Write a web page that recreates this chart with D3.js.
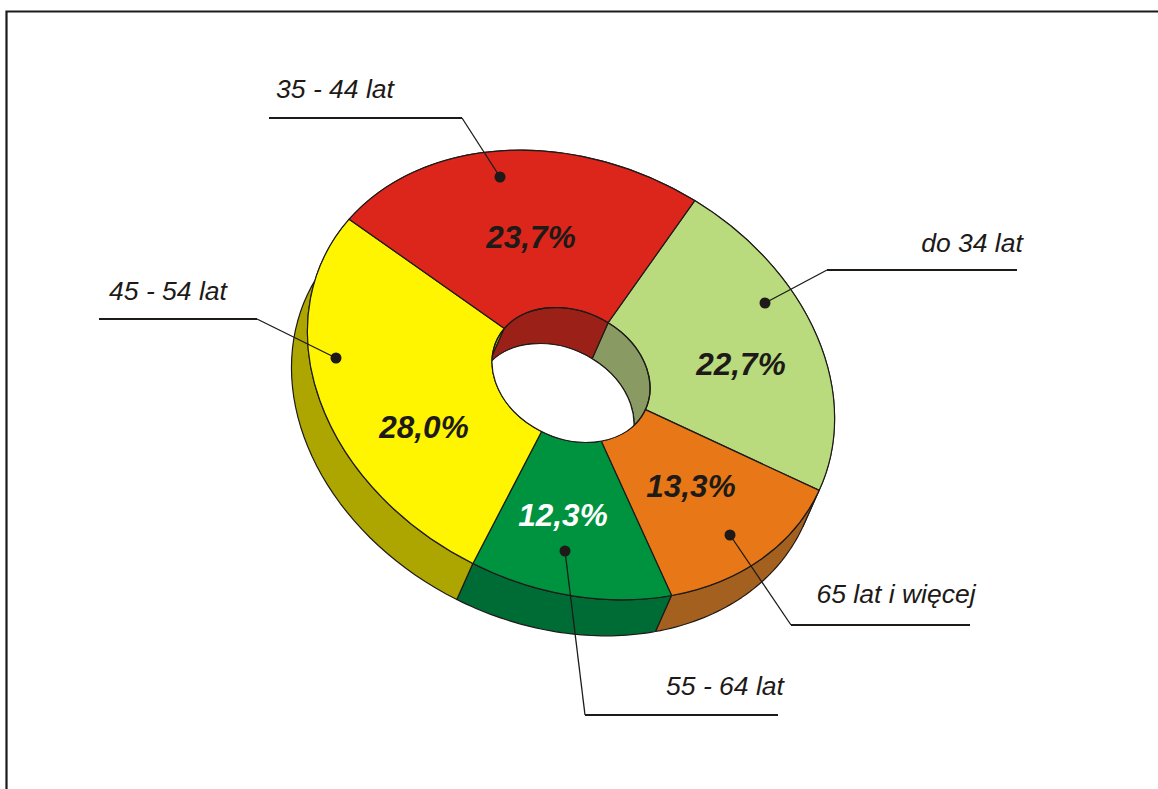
<!DOCTYPE html>
<html>
<head>
<meta charset="utf-8">
<script src="https://cdn.jsdelivr.net/npm/d3@7"></script>
<style>
  html, body { margin: 0; background: #fff; overflow: hidden; }
  text { font-family: "Liberation Sans", Arial, sans-serif; font-style: italic; fill: #1d1a18; }
  .slice-edge { stroke: #1d1a18; stroke-width: 1.2; vector-effect: non-scaling-stroke; stroke-linejoin: round; }
</style>
</head>
<body>
<svg id="chart" width="1158" height="789"></svg>
<script>
const categories = ["do 34 lat", "65 lat i więcej", "55 - 64 lat", "45 - 54 lat", "35 - 44 lat"];
const shares = [22.7, 13.3, 12.3, 28.0, 23.7];
const topColors = ["#b9db7e", "#e87817", "#00933f", "#fff500", "#dc261c"];
const wallColors = ["#8a9a63", "#a4601e", "#006c35", "#aea600", "#9b2118"];
const valueColors = ["#1d1a18", "#1d1a18", "#ffffff", "#1d1a18", "#1d1a18"];

// tilted disc: unit circle mapped to the page by two axis vectors
const CENTER = [571, 375];
const AXIS_A = [123.7, -174.4];
const AXIS_B = [232.7, 141.9];
const DEPTH = [-16, 36];
const HOLE_RADIUS = 0.3;
const STEPS = 40;

// pixel layout of the annotations, same order as categories
const valuePos = [[741, 375], [691, 497], [563, 526], [424, 438], [531, 248]];
const namePos = [[972, 252], [896, 603], [725, 695], [168, 300], [335, 98]];
const leaders = [
  [[1017, 270], [827, 270], [765, 303]],
  [[970, 625], [791, 625], [730, 535]],
  [[778, 715], [585, 715], [565, 551]],
  [[99, 319], [257, 319], [336, 358]],
  [[269, 118], [462, 118], [500, 177]]
];

const svg = d3.select("#chart");

svg.append("path")
  .attr("d", "M6.5,789V11.5H1158")
  .attr("fill", "none")
  .attr("stroke", "#1d1a18")
  .attr("stroke-width", 2.2);

const pie = d3.pie().sort(null).value((d) => d);
const slices = pie(shares);

const discMatrix = (dx, dy) =>
  `matrix(${AXIS_B[0]},${AXIS_B[1]},${-AXIS_A[0]},${-AXIS_A[1]},${CENTER[0] + dx},${CENTER[1] + dy})`;

const project = (r, angle) => [
  CENTER[0] + r * (AXIS_A[0] * Math.cos(angle) + AXIS_B[0] * Math.sin(angle)),
  CENTER[1] + r * (AXIS_A[1] * Math.cos(angle) + AXIS_B[1] * Math.sin(angle))
];

const wallPath = (slice, r) => {
  const angles = d3.range(STEPS + 1).map((i) =>
    slice.startAngle + (slice.endAngle - slice.startAngle) * i / STEPS);
  const edge = angles.map((a) => project(r, a));
  const lower = edge.map((p) => [p[0] + DEPTH[0], p[1] + DEPTH[1]]).reverse();
  return d3.line()(edge.concat(lower)) + "Z";
};

svg.append("defs").append("clipPath")
  .attr("id", "hole-clip")
  .append("circle")
  .attr("r", HOLE_RADIUS)
  .attr("transform", discMatrix(0, 0));

// outer wall
svg.append("g").selectAll("path")
  .data(slices)
  .join("path")
  .attr("class", "slice-edge")
  .attr("d", (d) => wallPath(d, 1))
  .attr("fill", (d, i) => wallColors[i]);

// top face
const arc = d3.arc().innerRadius(HOLE_RADIUS).outerRadius(1);
svg.append("g").selectAll("path")
  .data(slices)
  .join("path")
  .attr("class", "slice-edge")
  .attr("d", arc)
  .attr("transform", discMatrix(0, 0))
  .attr("fill", (d, i) => topColors[i]);

// inside of the hole
const hole = svg.append("g").attr("clip-path", "url(#hole-clip)");
hole.selectAll("path")
  .data(slices)
  .join("path")
  .attr("class", "slice-edge")
  .attr("d", (d) => wallPath(d, HOLE_RADIUS))
  .attr("fill", (d, i) => wallColors[i]);
hole.append("circle")
  .attr("class", "slice-edge")
  .attr("r", HOLE_RADIUS)
  .attr("transform", discMatrix(DEPTH[0], DEPTH[1]))
  .attr("fill", "#fff");
svg.append("circle")
  .attr("class", "slice-edge")
  .attr("r", HOLE_RADIUS)
  .attr("transform", discMatrix(0, 0))
  .attr("fill", "none");

// leaders
leaders.forEach((pts) => {
  svg.append("path")
    .attr("d", d3.line()(pts.slice(0, 2)))
    .attr("fill", "none")
    .attr("stroke", "#1d1a18")
    .attr("stroke-width", 2);
  svg.append("path")
    .attr("d", d3.line()(pts.slice(1)))
    .attr("fill", "none")
    .attr("stroke", "#1d1a18")
    .attr("stroke-width", 1.3);
  svg.append("circle")
    .attr("cx", pts[2][0])
    .attr("cy", pts[2][1])
    .attr("r", 5.5)
    .attr("fill", "#1d1a18");
});

svg.append("g").selectAll("text")
  .data(categories)
  .join("text")
  .attr("x", (d, i) => namePos[i][0])
  .attr("y", (d, i) => namePos[i][1])
  .attr("text-anchor", "middle")
  .attr("font-size", 26.5)
  .text((d) => d);

svg.append("g").selectAll("text")
  .data(shares)
  .join("text")
  .attr("x", (d, i) => valuePos[i][0])
  .attr("y", (d, i) => valuePos[i][1])
  .attr("text-anchor", "middle")
  .attr("font-size", 31.5)
  .attr("font-weight", "bold")
  .style("fill", (d, i) => valueColors[i])
  .text((d) => d.toFixed(1).replace(".", ",") + "%");
</script>
</body>
</html>
